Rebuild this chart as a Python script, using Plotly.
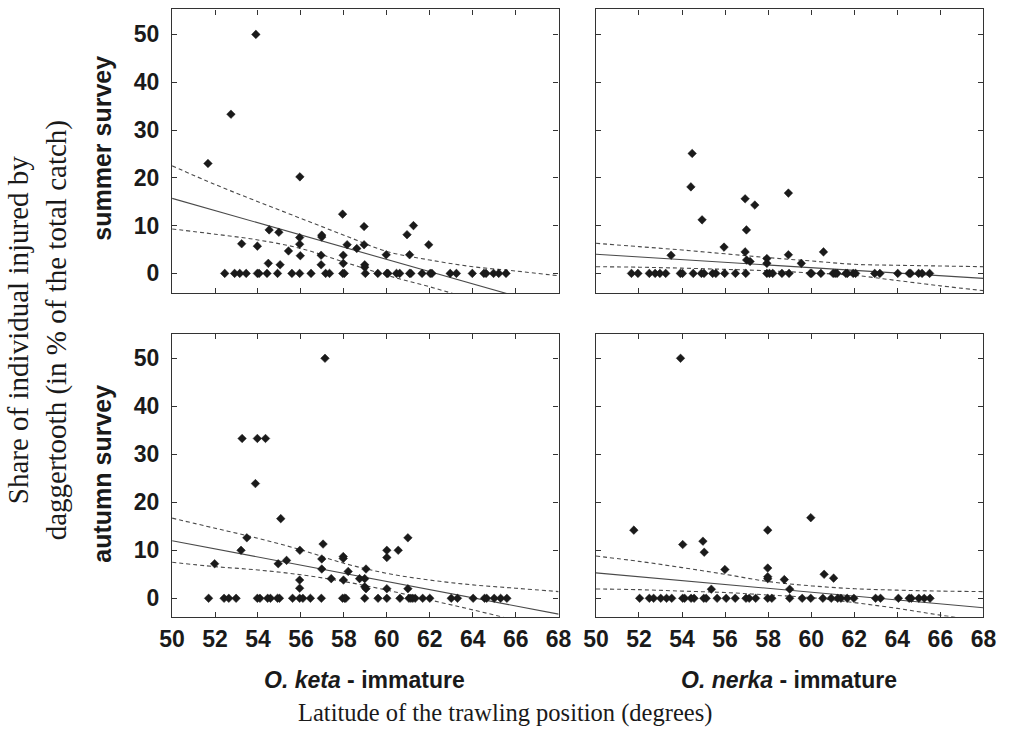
import plotly.graph_objects as go

# ---------------- data ----------------
lat_ticks = [50, 52, 54, 56, 58, 60, 62, 64, 66, 68]
pct_ticks = [0, 10, 20, 30, 40, 50]

# O. keta - summer survey
keta_summer_lat = [51.67, 52.74, 53.9, 55.95, 57.94, 58.94, 61.24, 60.94, 61.95, 54.52, 54.97,
                   53.24, 53.97, 55.94, 55.94, 55.97, 55.42, 56.97, 56.97, 56.94, 56.94, 54.48,
                   55.03, 57.97, 57.97, 58.15, 58.6, 58.94, 58.97, 58.97, 59.97, 61.06,
                   52.45, 52.91, 53.15, 53.45, 53.97, 54.05, 54.42, 54.91, 55.58, 55.94, 56.47,
                   57.15, 57.33, 57.95, 58.02, 59.0, 59.58, 60.0, 60.05, 60.45, 60.6, 61.06,
                   61.12, 61.64, 62.02, 62.1, 62.95, 63.24, 63.98, 64.52, 64.62, 64.97, 65.21, 65.55]
keta_summer_pct = [23.0, 33.3, 50.0, 20.2, 12.4, 9.8, 10.0, 8.1, 6.0, 9.1, 8.6,
                   6.2, 5.7, 7.5, 6.1, 3.7, 4.7, 8.0, 7.6, 3.8, 1.8, 2.1,
                   1.8, 3.8, 2.1, 6.0, 5.2, 6.0, 1.8, 1.3, 3.9, 3.9,
                   0, 0, 0, 0, 0, 0, 0, 0, 0, 0, 0,
                   0, 0, 0, 0, 0, 0, 0, 0, 0, 0, 0,
                   0, 0, 0, 0, 0, 0, 0, 0, 0, 0, 0, 0]

# O. nerka - summer survey
nerka_summer_lat = [54.47, 54.41, 54.93, 56.93, 57.38, 58.94, 56.99, 55.95, 53.49, 56.93, 58.94,
                    60.57, 57.0, 57.16, 57.94, 57.94, 59.54,
                    51.65, 51.95, 52.48, 52.75, 52.97, 53.24, 53.92, 54.02, 54.52, 54.9, 55.02,
                    55.42, 55.57, 55.98, 56.48, 56.96, 57.94, 58.06, 58.21, 58.64, 58.97, 59.96,
                    60.02, 60.45, 61.02, 61.11, 61.2, 61.61, 61.68, 61.95, 62.06, 62.95, 63.19,
                    64.02, 64.55, 64.62, 64.99, 65.15, 65.5]
nerka_summer_pct = [25.1, 18.1, 11.2, 15.6, 14.3, 16.8, 9.1, 5.5, 3.8, 4.5, 3.9,
                    4.5, 2.8, 2.5, 3.1, 2.1, 2.1,
                    0, 0, 0, 0, 0, 0, 0, 0, 0, 0, 0,
                    0, 0, 0, 0, 0, 0, 0, 0, 0, 0, 0,
                    0, 0, 0, 0, 0, 0, 0, 0, 0, 0, 0,
                    0, 0, 0, 0, 0, 0]

# O. keta - autumn survey
keta_autumn_lat = [57.12, 53.26, 53.97, 54.35, 53.88, 55.06, 53.48, 60.98, 53.21, 55.95, 57.03,
                   60.0, 60.53, 60.0, 57.97, 57.97, 51.98, 54.94, 55.33, 56.97, 56.97, 58.2,
                   59.03, 57.41, 57.98, 58.73, 58.97, 55.94, 55.94, 58.97, 59.03, 60.0, 60.98,
                   51.7, 52.42, 52.64, 52.98, 53.97, 54.09, 54.45, 54.58, 54.91, 55.0, 55.61,
                   55.94, 56.09, 56.44, 56.95, 57.94, 58.03, 58.09, 58.97, 59.59, 60.0, 60.61,
                   61.03, 61.12, 61.21, 61.32, 61.67, 62.0, 63.0, 63.29, 64.02, 64.55, 64.65,
                   65.0, 65.3, 65.59]
keta_autumn_pct = [50.0, 33.3, 33.3, 33.3, 23.9, 16.6, 12.6, 12.6, 10.0, 10.0, 11.3,
                   10.0, 10.0, 8.5, 8.7, 8.3, 7.2, 7.2, 7.9, 8.2, 6.1, 5.6,
                   6.1, 4.1, 3.8, 4.1, 4.1, 3.8, 2.1, 2.4, 2.0, 2.0, 2.0,
                   0, 0, 0, 0, 0, 0, 0, 0, 0, 0, 0,
                   0, 0, 0, 0, 0, 0, 0, 0, 0, 0, 0,
                   0, 0, 0, 0, 0, 0, 0, 0, 0, 0, 0,
                   0, 0, 0]

# O. nerka - autumn survey
nerka_autumn_lat = [53.93, 51.76, 57.98, 59.98, 54.03, 54.97, 55.03, 55.99, 57.98, 57.98, 57.98,
                    58.75, 60.6, 61.04, 55.36, 59.0,
                    52.03, 52.48, 52.68, 53.01, 53.28, 53.52, 54.03, 54.12, 54.42, 54.56, 55.01,
                    55.12, 55.63, 56.05, 56.47, 56.97, 57.12, 57.42, 57.98, 58.17, 59.0, 59.58,
                    59.98, 60.54, 60.93, 61.23, 61.38, 61.67, 61.98, 62.99, 63.22, 64.05, 64.55,
                    64.65, 65.0, 65.25, 65.52]
nerka_autumn_pct = [50.0, 14.2, 14.2, 16.8, 11.2, 11.9, 9.6, 6.0, 6.3, 4.5, 4.1,
                    3.9, 5.0, 4.2, 1.9, 1.9,
                    0, 0, 0, 0, 0, 0, 0, 0, 0, 0, 0,
                    0, 0, 0, 0, 0, 0, 0, 0, 0, 0, 0,
                    0, 0, 0, 0, 0, 0, 0, 0, 0, 0, 0,
                    0, 0, 0, 0]

# regression line (end points) and confidence bands, read at lat_ticks
fit_lat = [50, 68]
keta_summer_fit = [15.7, -7.3]
keta_summer_upper = [22.5, 18.6, 15.0, 11.5, 8.0, 4.6, 2.8, 1.4, 0.5, -0.5]
keta_summer_lower = [9.3, 8.2, 7.0, 5.2, 2.4, -0.4, -2.8, -5.5, -8.5, -11.5]

nerka_summer_fit = [4.0, -1.05]
nerka_summer_upper = [6.3, 5.6, 4.9, 4.1, 3.3, 2.6, 1.9, 1.7, 1.55, 1.4]
nerka_summer_lower = [1.4, 1.3, 1.1, 0.85, 0.55, 0.1, -0.4, -1.5, -2.6, -3.6]

keta_autumn_fit = [12.0, -3.3]
keta_autumn_upper = [16.7, 14.6, 12.5, 10.1, 7.3, 5.2, 3.8, 2.8, 2.1, 1.4]
keta_autumn_lower = [7.5, 6.6, 5.9, 4.9, 3.5, 1.7, -0.35, -2.4, -4.6, -7.0]

nerka_autumn_fit = [5.3, -1.95]
nerka_autumn_upper = [8.8, 7.7, 6.4, 5.0, 3.5, 2.6, 2.0, 1.7, 1.5, 1.4]
nerka_autumn_lower = [1.95, 1.8, 1.5, 1.2, 0.7, 0.14, -0.9, -2.1, -3.5, -4.7]

# ---------------- figure ----------------
W, H = 1013, 739
fig = go.Figure()

panels = [
    ("x", "y", keta_summer_lat, keta_summer_pct, keta_summer_fit, keta_summer_upper, keta_summer_lower),
    ("x2", "y2", nerka_summer_lat, nerka_summer_pct, nerka_summer_fit, nerka_summer_upper, nerka_summer_lower),
    ("x3", "y3", keta_autumn_lat, keta_autumn_pct, keta_autumn_fit, keta_autumn_upper, keta_autumn_lower),
    ("x4", "y4", nerka_autumn_lat, nerka_autumn_pct, nerka_autumn_fit, nerka_autumn_upper, nerka_autumn_lower),
]

line_col = "#4a4a4a"
for xa, ya, lx, ly, fit, up, lo in panels:
    for band in (up, lo):
        fig.add_trace(go.Scatter(x=lat_ticks, y=band, mode="lines", xaxis=xa, yaxis=ya,
                                 line=dict(color=line_col, width=1.1, dash="4px,3px", shape="spline"),
                                 showlegend=False, hoverinfo="skip"))
    fig.add_trace(go.Scatter(x=fit_lat, y=fit, mode="lines", xaxis=xa, yaxis=ya,
                             line=dict(color=line_col, width=1.1),
                             showlegend=False, hoverinfo="skip"))
    fig.add_trace(go.Scatter(x=lx, y=ly, mode="markers", xaxis=xa, yaxis=ya,
                             marker=dict(symbol="diamond", size=6.6, color="#1a1a1a",
                                         line=dict(width=0.5, color="#1a1a1a")),
                             showlegend=False))

def px2x(p):
    return p / W

def px2y(p):
    return 1 - p / H

xd_left = [px2x(163.3), px2x(560.0)]
xd_right = [px2x(598.3), px2x(996.0)]
yd_top = [px2y(293.0), px2y(9.3)]
yd_bot = [px2y(616.7), px2y(334.0)]

tickfont = dict(family="Liberation Sans", size=23, color="#1a1a1a")
common_x = dict(range=[50, 68], tickvals=lat_ticks, ticks="inside", ticklen=5, tickwidth=1,
                tickcolor="#333", showline=True, linecolor="#333", linewidth=1.4, mirror="ticks",
                showgrid=False, zeroline=False, tickfont=tickfont, ticklabelstandoff=1)
common_y = dict(tickvals=pct_ticks, ticks="inside", ticklen=5, tickwidth=1,
                tickcolor="#333", showline=True, linecolor="#333", linewidth=1.4, mirror="ticks",
                showgrid=False, zeroline=False, tickfont=tickfont, ticklabelstandoff=7)

tickfmt = [f"<b>{v}</b>" for v in lat_ticks]
ytickfmt = [f"<b>{v}</b>" for v in pct_ticks]

fig.update_layout(
    width=W, height=H,
    margin=dict(l=0, r=0, t=0, b=0),
    paper_bgcolor="white", plot_bgcolor="white",
    xaxis=dict(common_x, domain=xd_left, anchor="y", showticklabels=False),
    xaxis2=dict(common_x, domain=xd_right, anchor="y2", showticklabels=False),
    xaxis3=dict(common_x, domain=xd_left, anchor="y3", ticktext=tickfmt),
    xaxis4=dict(common_x, domain=xd_right, anchor="y4", ticktext=tickfmt),
    yaxis=dict(common_y, domain=yd_top, anchor="x", range=[-4.1, 55.25], ticktext=ytickfmt),
    yaxis2=dict(common_y, domain=yd_top, anchor="x2", range=[-4.1, 55.25], showticklabels=False),
    yaxis3=dict(common_y, domain=yd_bot, anchor="x3", range=[-3.83, 55.06], ticktext=ytickfmt),
    yaxis4=dict(common_y, domain=yd_bot, anchor="x4", range=[-3.83, 55.06], showticklabels=False),
)

sans_bold = dict(family="Liberation Sans", size=23, color="#1a1a1a")
serif = dict(family="Liberation Serif", size=24.5, color="#1a1a1a")

annots = [
    dict(text="<b><i>O. keta</i> - immature</b>", x=px2x(361), y=px2y(680), font=sans_bold),
    dict(text="<b><i>O. nerka</i> - immature</b>", x=px2x(796), y=px2y(680), font=sans_bold),
    dict(text="Latitude of the trawling position (degrees)", x=px2x(505), y=px2y(713), font=serif),
    dict(text="<b>summer survey</b>", x=px2x(91), y=px2y(148), textangle=-90,
         font=dict(family="Liberation Sans", size=25, color="#1a1a1a")),
    dict(text="<b>autumn survey</b>", x=px2x(91), y=px2y(474), textangle=-90,
         font=dict(family="Liberation Sans", size=25, color="#1a1a1a")),
    dict(text="Share of individual injured by<br>daggertooth (in % of the total catch)",
         x=px2x(25), y=px2y(330), textangle=-90,
         font=dict(family="Liberation Serif", size=29, color="#1a1a1a")),
]
for a in annots:
    fig.add_annotation(xref="paper", yref="paper", showarrow=False,
                       xanchor="center", yanchor="middle", **a)

fig.write_html("out.html")
